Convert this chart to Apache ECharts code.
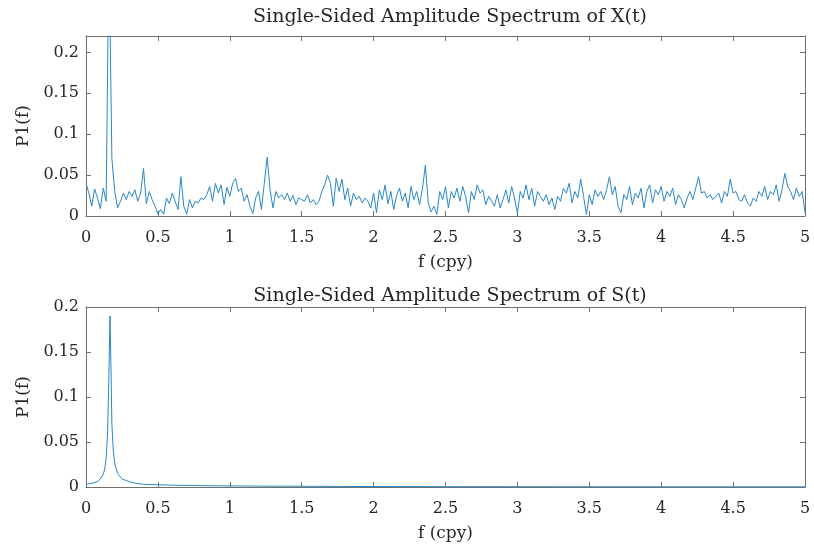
<!DOCTYPE html>
<html>
<head>
<meta charset="utf-8">
<script src="https://cdn.jsdelivr.net/npm/echarts@6/dist/echarts.min.js"></script>
<style>
  html, body { margin: 0; padding: 0; background: #fff; }
  #chart { width: 814px; height: 549px; }
</style>
</head>
<body>
<div id="chart"></div>
<script>
// frequency grid of X(t), cycles per year
const xFreq = []
for (let i = 0; i <= 250; i++) xFreq.push(+(i * 0.02).toFixed(2))

// P1(f) of X(t) (peak near 0.17 runs off the top)
const xAmp = [
  0.040, 0.028, 0.012, 0.033, 0.022, 0.009, 0.034, 0.018, 0.330, 0.070,
  0.030, 0.010, 0.018, 0.028, 0.020, 0.030, 0.024, 0.032, 0.018, 0.028,
  0.058, 0.015, 0.030, 0.020, 0.012,
  0.003, 0.008, 0.002, 0.022, 0.015, 0.028, 0.018, 0.008, 0.048, 0.012,
  0.002, 0.020, 0.010, 0.018, 0.016, 0.022, 0.020, 0.026, 0.036, 0.018,
  0.040, 0.028, 0.038, 0.014, 0.035,
  0.024, 0.040, 0.046, 0.030, 0.034, 0.018, 0.026, 0.012, 0.003, 0.022,
  0.030, 0.008, 0.040, 0.072, 0.032, 0.010, 0.030, 0.022, 0.026, 0.020,
  0.028, 0.018, 0.025, 0.014, 0.022,
  0.020, 0.018, 0.026, 0.016, 0.020, 0.014, 0.018, 0.030, 0.038, 0.050,
  0.040, 0.012, 0.046, 0.030, 0.045, 0.020, 0.034, 0.012, 0.028, 0.020,
  0.024, 0.016, 0.022, 0.018, 0.010,
  0.028, 0.004, 0.032, 0.020, 0.038, 0.015, 0.030, 0.008, 0.025, 0.034,
  0.018, 0.028, 0.010, 0.036, 0.020, 0.030, 0.014, 0.034, 0.062, 0.016,
  0.005, 0.012, 0.002, 0.030, 0.020,
  0.036, 0.010, 0.030, 0.022, 0.034, 0.018, 0.036, 0.024, 0.004, 0.030,
  0.020, 0.038, 0.028, 0.032, 0.014, 0.024, 0.018, 0.012, 0.026, 0.010,
  0.020, 0.032, 0.016, 0.036, 0.022,
  0.003, 0.030, 0.022, 0.038, 0.020, 0.034, 0.012, 0.030, 0.024, 0.018,
  0.026, 0.014, 0.022, 0.008, 0.024, 0.018, 0.034, 0.028, 0.040, 0.016,
  0.030, 0.022, 0.045, 0.024, 0.002,
  0.026, 0.014, 0.032, 0.024, 0.030, 0.020, 0.032, 0.048, 0.026, 0.036,
  0.012, 0.004, 0.026, 0.020, 0.036, 0.014, 0.028, 0.022, 0.034, 0.010,
  0.030, 0.038, 0.016, 0.032, 0.026,
  0.036, 0.018, 0.030, 0.024, 0.034, 0.014, 0.026, 0.020, 0.010, 0.022,
  0.030, 0.020, 0.034, 0.048, 0.028, 0.030, 0.022, 0.026, 0.020, 0.024,
  0.028, 0.016, 0.030, 0.024, 0.045,
  0.028, 0.030, 0.020, 0.018, 0.026, 0.016, 0.012, 0.022, 0.018, 0.030,
  0.024, 0.036, 0.020, 0.030, 0.026, 0.038, 0.018, 0.032, 0.052, 0.036,
  0.030, 0.020, 0.034, 0.024, 0.030, 0.004
]

// P1(f) of S(t)
const sFreq = [0, 0.04, 0.08, 0.1, 0.12, 0.13, 0.14, 0.15, 0.16, 0.167, 0.175, 0.18, 0.19, 0.2,
  0.22, 0.25, 0.3, 0.35, 0.4, 0.5, 0.6, 0.8, 1.0, 1.2, 1.5, 2, 3, 4, 5]
const sAmp = [0.003, 0.004, 0.006, 0.009, 0.014, 0.020, 0.032, 0.060, 0.130, 0.190, 0.120, 0.070, 0.040, 0.026,
  0.015, 0.009, 0.006, 0.004, 0.003, 0.0025, 0.002, 0.0015, 0.0012, 0.001, 0.0008, 0.0005, 0.0003, 0.0002, 0.0002]

const titles = ['Single-Sided Amplitude Spectrum of X(t)', 'Single-Sided Amplitude Spectrum of S(t)']
const xName = 'f (cpy)'
const yName = 'P1(f)'
const yMax = [0.22, 0.2]

const font = 'DejaVu Serif'
const boxColor = '#6f6f6f'
const textColor = '#262626'
const lineColor = '#2a86c8'

const chart = echarts.init(document.getElementById('chart'))

const grids = [
  { left: 86, right: 9, top: 36, height: 180 },
  { left: 86, right: 9, top: 307, height: 180 }
]

const tick = { inside: true, length: 5, lineStyle: { color: boxColor } }
const xAxes = []
const yAxes = []
grids.forEach((g, i) => {
  xAxes.push({
    type: 'value',
    gridIndex: i,
    min: 0,
    max: 5,
    interval: 0.5,
    name: xName,
    nameLocation: 'middle',
    nameGap: 38,
    nameTextStyle: { fontFamily: font, fontSize: 17, color: textColor },
    axisLine: { onZero: false, lineStyle: { color: boxColor } },
    axisTick: tick,
    axisLabel: { fontFamily: font, fontSize: 16, color: textColor, margin: 14 },
    splitLine: { show: false }
  })
  xAxes.push({
    type: 'value',
    gridIndex: i,
    position: 'top',
    min: 0,
    max: 5,
    interval: 0.5,
    axisLine: { onZero: false, lineStyle: { color: boxColor } },
    axisTick: tick,
    axisLabel: { show: false },
    splitLine: { show: false }
  })
  yAxes.push({
    type: 'value',
    gridIndex: i,
    min: 0,
    max: yMax[i],
    interval: 0.05,
    name: yName,
    nameLocation: 'middle',
    nameGap: 52,
    nameTextStyle: { fontFamily: font, fontSize: 17, color: textColor },
    axisLine: { show: true, onZero: false, lineStyle: { color: boxColor } },
    axisTick: Object.assign({ show: true }, tick),
    axisLabel: { fontFamily: font, fontSize: 16, color: textColor, margin: 7, showMaxLabel: yMax[i] === 0.2 },
    splitLine: { show: false }
  })
  yAxes.push({
    type: 'value',
    gridIndex: i,
    position: 'right',
    min: 0,
    max: yMax[i],
    interval: 0.05,
    axisLine: { show: true, onZero: false, lineStyle: { color: boxColor } },
    axisTick: Object.assign({ show: true }, tick),
    axisLabel: { show: false },
    splitLine: { show: false }
  })
})

chart.setOption({
  backgroundColor: '#fff',
  animation: false,
  title: titles.map((t, i) => ({
    text: t,
    left: 445,
    textAlign: 'center',
    top: i === 0 ? 3 : 282,
    textStyle: { fontFamily: font, fontSize: 19, fontWeight: 'normal', color: textColor }
  })),
  grid: grids,
  xAxis: xAxes,
  yAxis: yAxes,
  series: [
    {
      type: 'line',
      xAxisIndex: 0,
      yAxisIndex: 0,
      data: xFreq.map((f, i) => [f, xAmp[i]]),
      showSymbol: false,
      clip: true,
      lineStyle: { color: lineColor, width: 1 }
    },
    {
      type: 'line',
      xAxisIndex: 2,
      yAxisIndex: 2,
      data: sFreq.map((f, i) => [f, sAmp[i]]),
      showSymbol: false,
      clip: true,
      lineStyle: { color: lineColor, width: 1 }
    }
  ]
})
</script>
</body>
</html>
